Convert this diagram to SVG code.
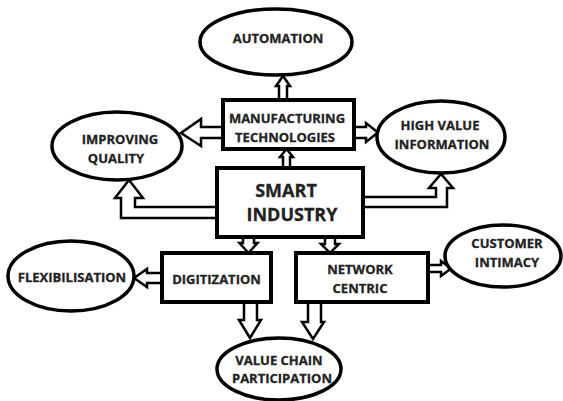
<svg xmlns="http://www.w3.org/2000/svg" width="563" height="401" viewBox="0 0 563 401">
<style>
.box{fill:#fff;stroke:#000;stroke-width:4}
.ell{fill:#fff;stroke:#000;stroke-width:3.5}
.arr{fill:#fff;stroke:#000;stroke-width:2.5;stroke-linejoin:miter}
text{font-family:"Open Sans","Liberation Sans",sans-serif;font-weight:700;font-size:13px;fill:#222;stroke:#222;stroke-width:0.3;text-anchor:middle}
.big{font-size:18px}
</style>
<rect width="563" height="401" fill="#fff"/>
<g id="connectors">
<path class="arr" d="M279,100 V86 H276 L283,76 L290,86 H287 V100"/>
<path class="arr" d="M283,168 V157 H280 L286.5,149 L293,157 H290 V168"/>
<path class="arr" d="M223,127 H201 V119 L181,133 L201,146 V138 H223"/>
<path class="arr" d="M354,127 H366 V123 L378,132.5 L366,142 V138 H354"/>
<path class="arr" d="M217,218 H121 V198 H115 L129,180 L143,198 H135 V207 H217"/>
<path class="arr" d="M363,197 H436 V188 H429 L441,174 L453,188 H447 V207 H363"/>
<path class="arr" d="M243,237 V243 H239.5 L248.5,253 L257.5,243 H254 V237"/>
<path class="arr" d="M325,237 V244 H321 L330,253 L339,244 H335 V237"/>
<path class="arr" d="M162,273 H147 V269 L134,278 L147,287 V283 H162"/>
<path class="arr" d="M244,302 V320 H239 L250,338 L261,320 H257 V302"/>
<path class="arr" d="M308,302 V322 H302 L313,339 L324,322 H321 V302"/>
<path class="arr" d="M428,265 H441 V261 L451,268.5 L441,276 V272 H428"/>
</g>
<g id="automation">
<ellipse class="ell" cx="276" cy="42" rx="76" ry="33"/>
<text x="278" y="43">AUTOMATION</text>
</g>
<g id="manufacturing">
<rect class="box" x="223" y="100" width="131" height="49"/>
<text x="287" y="123">MANUFACTURING</text>
<text x="285" y="142">TECHNOLOGIES</text>
</g>
<g id="improving-quality">
<ellipse class="ell" cx="117" cy="146" rx="65" ry="34"/>
<text x="120" y="144">IMPROVING</text>
<text x="116" y="163">QUALITY</text>
</g>
<g id="high-value">
<ellipse class="ell" cx="441" cy="137" rx="64" ry="36"/>
<text x="440" y="130">HIGH VALUE</text>
<text x="442" y="149">INFORMATION</text>
</g>
<g id="smart-industry">
<rect class="box" x="217" y="168" width="146" height="69"/>
<text class="big" x="286" y="197">SMART</text>
<text class="big" x="292" y="221">INDUSTRY</text>
</g>
<g id="flexibilisation">
<ellipse class="ell" cx="71" cy="276" rx="63" ry="35"/>
<text x="72" y="282">FLEXIBILISATION</text>
</g>
<g id="digitization">
<rect class="box" x="162" y="253" width="109" height="49"/>
<text x="216.5" y="284">DIGITIZATION</text>
</g>
<g id="network-centric">
<rect class="box" x="296" y="253" width="132" height="49"/>
<text x="360" y="274">NETWORK</text>
<text x="360" y="293">CENTRIC</text>
</g>
<g id="customer-intimacy">
<ellipse class="ell" cx="503" cy="256" rx="58" ry="31"/>
<text x="507" y="248">CUSTOMER</text>
<text x="507" y="267">INTIMACY</text>
</g>
<g id="value-chain">
<ellipse class="ell" cx="279" cy="369" rx="62" ry="31"/>
<text x="279" y="365">VALUE CHAIN</text>
<text x="282" y="383">PARTICIPATION</text>
</g>
</svg>
